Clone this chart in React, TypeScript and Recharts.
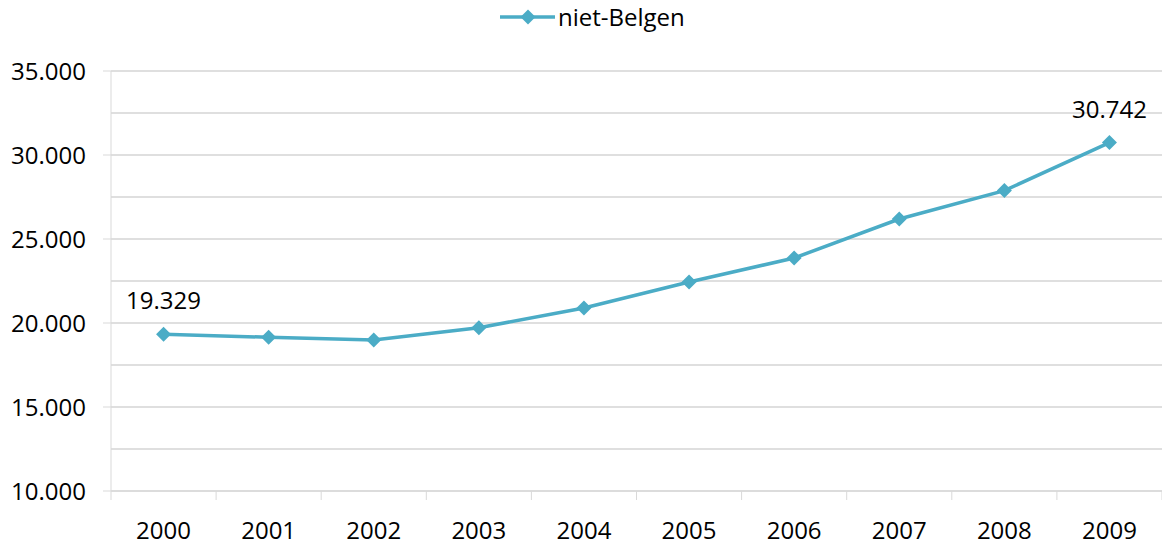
import { LineChart, Line, XAxis, YAxis, CartesianGrid, Legend } from 'recharts'

const years = ['2000', '2001', '2002', '2003', '2004', '2005', '2006', '2007', '2008', '2009']
const nietBelgen = [19329, 19150, 18990, 19720, 20890, 22440, 23870, 26190, 27880, 30742]
const yTicks = [10000, 12500, 15000, 17500, 20000, 22500, 25000, 27500, 30000, 32500, 35000]

const data = years.map((year, i) => ({ year, value: nietBelgen[i] }))

const W = 1162
const H = 546
const YAXIS_W = 111
const COLOR = '#4bacc6'
const FONT = '"Open Sans", sans-serif'
const FS = 24

const fmt = (v: number) => String(v).replace(/\B(?=(\d{3})+(?!\d))/g, '.')

const diamond = (cx: number, cy: number, r: number) =>
  `${cx},${cy - r} ${cx + r},${cy} ${cx},${cy + r} ${cx - r},${cy}`

function Dot(props: any) {
  const { cx, cy, index } = props
  if (cx == null || cy == null) return null
  return <polygon key={`d-${index}`} points={diamond(cx, cy, 7.5)} fill={COLOR} />
}

function PointLabel(props: any) {
  const { x, y, index, value } = props
  if (index !== 0 && index !== nietBelgen.length - 1) return null
  return (
    <text x={x} y={y - 25} textAnchor="middle" fontSize={FS} fontFamily={FONT} fill="#000">
      {fmt(value)}
    </text>
  )
}

function YTick(props: any) {
  const { y, payload } = props
  if (payload.value % 5000 !== 0) return null
  return (
    <g>
      <line x1={YAXIS_W - 8} x2={YAXIS_W} y1={y} y2={y} stroke="#d9d9d9" />
      <text x={YAXIS_W - 25} y={y} dy="0.36em" textAnchor="end" fontSize={FS} fontFamily={FONT} fill="#000">
        {fmt(payload.value)}
      </text>
    </g>
  )
}

function XTick(props: any) {
  const { x, y, payload, index } = props
  const half = payload.offset || 52.55
  const last = index === years.length - 1
  return (
    <g>
      <line x1={x - half} x2={x - half} y1={y - 8} y2={y + 1} stroke="#d9d9d9" />
      {last && <line x1={x + half} x2={x + half} y1={y - 8} y2={y + 1} stroke="#d9d9d9" />}
      <text x={x} y={y + 40} textAnchor="middle" fontSize={FS} fontFamily={FONT} fill="#000">
        {payload.value}
      </text>
    </g>
  )
}

function LegendContent() {
  return (
    <div style={{ display: 'flex', alignItems: 'center', paddingLeft: 498, fontFamily: FONT, fontSize: FS }}>
      <svg width={60} height={20}>
        <line x1={2} x2={57} y1={10} y2={10} stroke={COLOR} strokeWidth={3.5} />
        <polygon points={diamond(30, 10, 7.5)} fill={COLOR} />
      </svg>
      <span style={{ color: '#000', lineHeight: '30px' }}>niet-Belgen</span>
    </div>
  )
}

export default function App() {
  return (
    <div style={{ position: 'absolute', left: 0, top: 0, background: '#fff' }}>
      <LineChart width={W} height={H} data={data} margin={{ top: 71, right: 0, bottom: 0, left: 0 }}>
        <CartesianGrid vertical={false} stroke="#bfbfbf" />
        <XAxis
          dataKey="year"
          scale="band"
          height={55}
          axisLine={{ stroke: '#d9d9d9' }}
          tickLine={false}
          tick={<XTick />}
          interval={0}
        />
        <YAxis
          type="number"
          domain={[10000, 35000]}
          ticks={yTicks}
          width={YAXIS_W}
          axisLine={{ stroke: '#d9d9d9' }}
          tickLine={false}
          tick={<YTick />}
          interval={0}
        />
        <Legend verticalAlign="middle" wrapperStyle={{ top: 2, left: 0, width: W }} content={<LegendContent />} />
        <Line
          dataKey="value"
          stroke={COLOR}
          strokeWidth={3.5}
          dot={<Dot />}
          activeDot={false}
          label={<PointLabel />}
          isAnimationActive={false}
        />
      </LineChart>
    </div>
  )
}
